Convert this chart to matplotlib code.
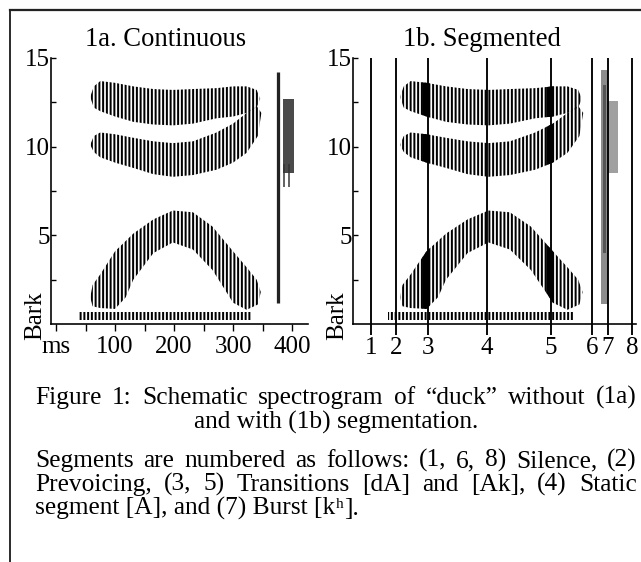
import numpy as np
import matplotlib.pyplot as plt
from matplotlib.lines import Line2D

plt.rcParams['font.family'] = ['Liberation Serif', 'DejaVu Serif']
plt.rcParams['hatch.linewidth'] = 1.6

W, H, DPI = 641, 562, 90

# formant bands, outline (ms, Bark): upper edge, then lower edge back
f3_ms = [58, 64, 75, 100, 131, 165, 198, 232, 272, 300, 323, 340, 346,
         340, 323, 300, 272, 232, 198, 165, 131, 100, 75, 64]
f3_bark = [12.8, 13.4, 13.7, 13.6, 13.4, 13.25, 13.2, 13.25, 13.3, 13.4, 13.4, 13.2, 12.7,
           12.2, 11.9, 11.7, 11.6, 11.3, 11.2, 11.25, 11.4, 11.7, 12.0, 12.2]

f2_ms = [58, 64, 75, 100, 131, 165, 198, 232, 272, 300, 323, 340, 348,
         342, 323, 300, 272, 232, 198, 165, 131, 100, 75, 64]
f2_bark = [10.1, 10.6, 10.8, 10.7, 10.5, 10.3, 10.2, 10.3, 10.8, 11.3, 11.9, 12.3, 11.9,
           10.6, 9.65, 9.1, 8.7, 8.4, 8.3, 8.45, 8.8, 9.1, 9.4, 9.7]

f1_ms = [58, 62, 75, 100, 131, 165, 198, 232, 265, 300, 323, 340, 347,
         342, 323, 300, 285, 265, 232, 198, 165, 131, 118, 100, 75, 62]
f1_bark = [1.5, 2.2, 2.8, 4.1, 5.1, 5.9, 6.4, 6.3, 5.5, 4.1, 3.2, 2.5, 1.8,
           1.1, 0.8, 1.2, 2.0, 3.05, 4.2, 4.6, 4.0, 2.5, 1.5, 0.85, 0.9, 1.0]

# voicing bar
voice_ms = [39, 332]
voice_bark = [0.25, 0.7]

# burst
burst_ms = [376, 387]
burst_bark = [1.2, 14.2]
burst2_ms = [385, 403]
burst2_bark = [8.5, 12.7]

# segment boundaries in 1b
seg_ms = [12, 52, 102, 196, 297, 362, 387, 425]
seg_labels = ['1', '2', '3', '4', '5', '6', '7', '8']

caption = ["Figure 1: Schematic spectrogram of \u201cduck\u201d without (1a)",
           "and with (1b) segmentation."]
notes = ["Segments are numbered as follows: (1, 6, 8) Silence, (2)",
         "Prevoicing, (3, 5) Transitions [dA] and [Ak], (4) Static"]
last_line = ["segment [A], and (7) Burst [k", "h", "]."]


def px(x, y):
    return x / W, 1 - y / H


fig = plt.figure(figsize=(W / DPI, H / DPI), dpi=DPI)
fs = 20
cfs = 20.3


def draw_bands(ax):
    polys = []
    for xs, ys in [(f3_ms, f3_bark), (f2_ms, f2_bark), (f1_ms, f1_bark)]:
        p, = ax.fill(xs, ys, facecolor='none', edgecolor='black', lw=0, hatch='||||')
        polys.append(p)
    ax.fill_between(voice_ms, voice_bark[0], voice_bark[1], facecolor='none',
                    edgecolor='black', lw=0, hatch='||||')
    return polys


def style_axes(ax, xlab):
    for s in ['top', 'right']:
        ax.spines[s].set_visible(False)
    for s in ['left', 'bottom']:
        ax.spines[s].set_linewidth(1.3)
    ax.set_ylim(0, 15)
    ax.set_yticks([5, 10, 15])
    ax.set_yticks([2.5, 7.5, 12.5], minor=True)
    ax.tick_params(axis='y', which='both', direction='in', length=4, width=1.1,
                   pad=1, labelsize=fs)
    ax.text(xlab, -0.9, 'Bark', transform=ax.get_yaxis_transform(), rotation=90,
            ha='center', va='bottom', fontsize=fs)


def justify(line, x0, x1, y):
    r = fig.canvas.get_renderer()
    words = line.split(' ')
    texts = [fig.text(0, 1 - y / H, w, fontsize=cfs, va='baseline', ha='left') for w in words]
    widths = [t.get_window_extent(r).width for t in texts]
    gap = (x1 - x0 - sum(widths)) / (len(words) - 1)
    x = x0
    for t, w in zip(texts, widths):
        t.set_x(x / W)
        x += w + gap


# 1a
ax1 = fig.add_axes([51 / W, 1 - 324 / H, 257 / W, 266 / H])
ax1.set_xlim(-8.5, 427)
draw_bands(ax1)
ax1.vlines(burst_ms[0], burst_bark[0], burst_bark[1], color='#222222', lw=2.6)
ax1.fill_between(burst2_ms, burst2_bark[0], burst2_bark[1], color='#4a4a4a', lw=0)
ax1.vlines([burst2_ms[0] + 2, burst2_ms[0] + 9], 7.7, burst2_bark[0] + 0.5, color='#333333', lw=1.2)
style_axes(ax1, (35 - 51) / 257)
ax1.set_xticks([0, 100, 200, 300, 400], ['ms', '100', '200', '300', '400'])
ax1.set_xticks([50, 150, 250, 350], minor=True)
ax1.tick_params(axis='x', which='both', direction='out', length=5.5, width=1.1,
                pad=4, labelsize=fs)

# 1b
ax2 = fig.add_axes([353 / W, 1 - 324 / H, 283 / W, 266 / H])
ax2.set_xlim(-16.3, 431.5)
polys = draw_bands(ax2)
for p in polys:
    for s in [seg_ms[2], seg_ms[4]]:
        ln = ax2.axvline(s - 2, color='black', lw=6)
        ln.set_clip_path(p)
ax2.fill_between(burst_ms, burst_bark[0] - 0.1, burst_bark[1] + 0.1, color='#8c8c8c', lw=0)
ax2.fill_between([burst_ms[0] + 3, burst_ms[1] - 3], 4, 13.5, color='#555555', lw=0)
ax2.fill_between(burst2_ms, burst2_bark[0], burst2_bark[1] - 0.1, color='#a0a0a0', lw=0)
ax2.vlines(seg_ms, -0.6, 15, color='black', lw=1.5, clip_on=False)
style_axes(ax2, (337 - 353) / 283)
ax2.set_xticks(seg_ms, seg_labels)
ax2.tick_params(axis='x', length=0, pad=10, labelsize=fs)

fig.text(*px(166, 40), '1a. Continuous', ha='center', va='center', fontsize=21.3)
fig.text(*px(482, 40), '1b. Segmented', ha='center', va='center', fontsize=21.3)

justify(caption[0], 35, 637, 404)
fig.text(*px(336, 429), caption[1], ha='center', va='baseline', fontsize=cfs)
justify(notes[0], 35, 637, 467)
justify(notes[1], 35, 637, 491)

# last line with the raised h of the aspirated k
r = fig.canvas.get_renderer()
x = 35
for part, size, rise in zip(last_line, [cfs, cfs * 0.6, cfs], [0, 7, 0]):
    t = fig.text(*px(x, 515 - rise), part, ha='left', va='baseline', fontsize=size)
    x += t.get_window_extent(r).width + 0.5

# page frame
fig.add_artist(Line2D([10 / W, 1], [1 - 10 / H] * 2, color='#222222', lw=1.8))
fig.add_artist(Line2D([10 / W] * 2, [1 - 10 / H, 0], color='#222222', lw=1.5))

fig.savefig('out.png', dpi=DPI)
